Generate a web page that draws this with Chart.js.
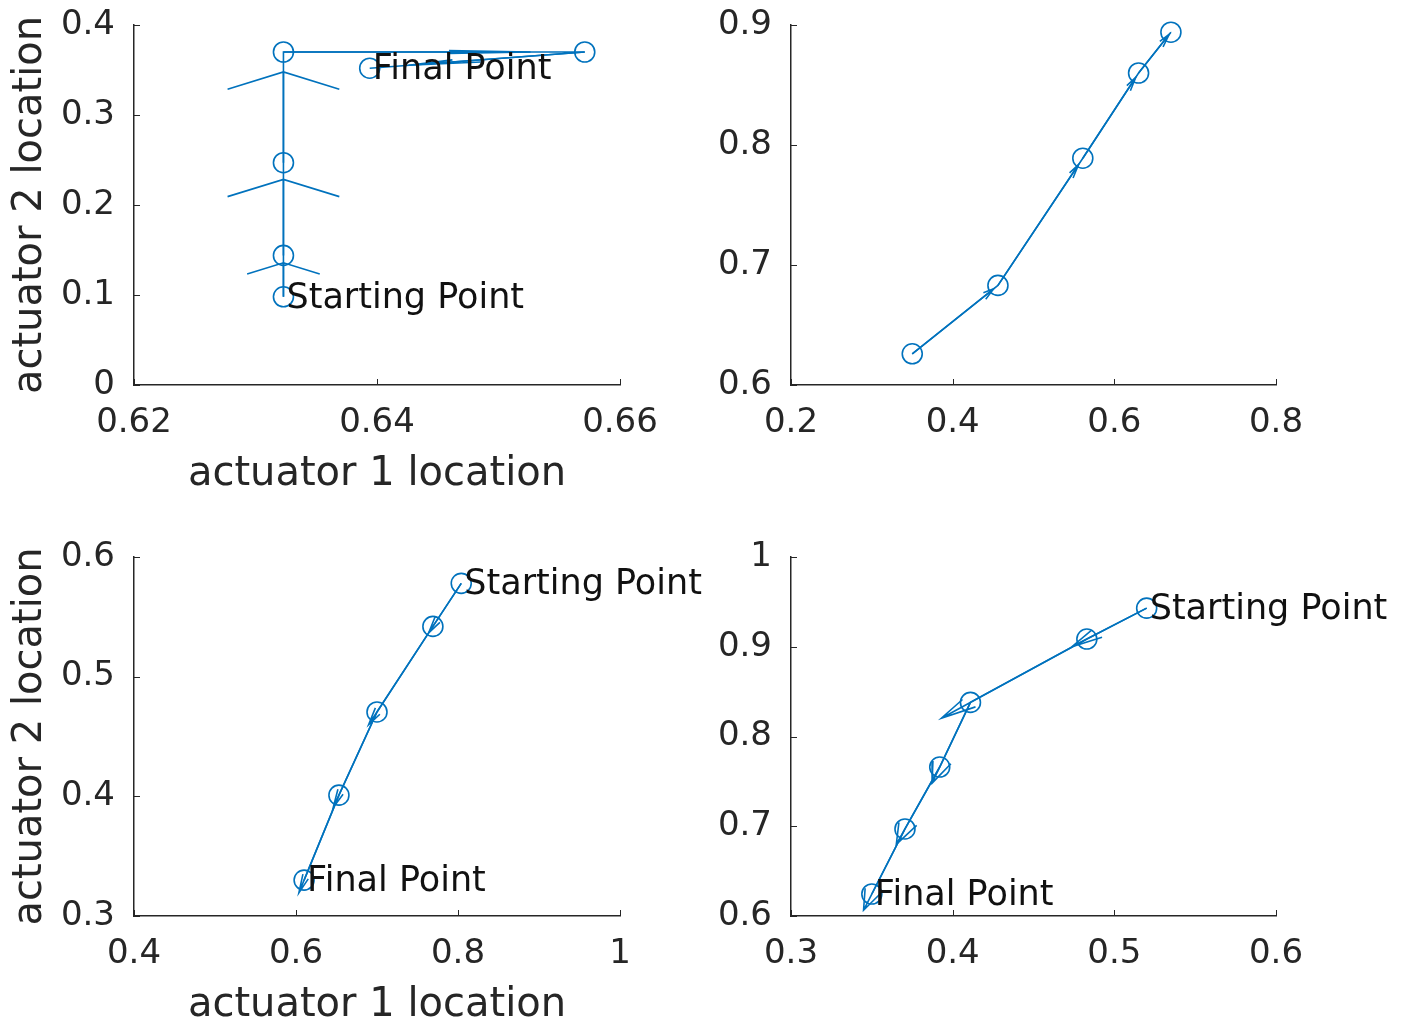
<!DOCTYPE html>
<html>
<head>
<meta charset="utf-8">
<script src="https://cdn.jsdelivr.net/npm/chart.js@4.4.0/dist/chart.umd.min.js"></script>
<style>
  html, body { margin: 0; padding: 0; background: #fff; }
  #wrap { position: relative; width: 1403px; height: 1030px; overflow: hidden; }
  #wrap canvas { position: absolute; left: 0; top: 0; }
</style>
</head>
<body>
<div id="wrap">
  <canvas id="run1" width="1403" height="1030"></canvas>
  <canvas id="run2" width="1403" height="1030"></canvas>
  <canvas id="run3" width="1403" height="1030"></canvas>
  <canvas id="run4" width="1403" height="1030"></canvas>
</div>
<script>
// actuator positions per iteration, one run per subplot
const act1Run1 = [0.6323, 0.6323, 0.6323, 0.6323, 0.6571, 0.6394];
const act2Run1 = [0.098, 0.144, 0.247, 0.370, 0.370, 0.352];

const act1Run2 = [0.350, 0.456, 0.561, 0.630, 0.670];
const act2Run2 = [0.626, 0.683, 0.789, 0.860, 0.894];

const act1Run3 = [0.804, 0.769, 0.700, 0.653, 0.610];
const act2Run3 = [0.578, 0.542, 0.4705, 0.401, 0.330];

const act1Run4 = [0.520, 0.483, 0.411, 0.392, 0.3705, 0.350];
const act2Run4 = [0.943, 0.9086, 0.838, 0.766, 0.697, 0.6245];

// axis ticks
const xTicks1 = [0.62, 0.64, 0.66];
const yTicks1 = [0, 0.1, 0.2, 0.3, 0.4];
const xTicks2 = [0.2, 0.4, 0.6, 0.8];
const yTicks2 = [0.6, 0.7, 0.8, 0.9];
const xTicks3 = [0.4, 0.6, 0.8, 1];
const yTicks3 = [0.3, 0.4, 0.5, 0.6];
const xTicks4 = [0.3, 0.4, 0.5, 0.6];
const yTicks4 = [0.6, 0.7, 0.8, 0.9, 1];

const BLUE = '#0072BD';
const AXIS = '#262626';
Chart.defaults.font.family = '"DejaVu Sans", sans-serif';

// quiver-style arrows from each point toward the next one (heads built in data units)
function quiverData(xs, ys, scale, headCap) {
  const arrows = [];
  for (let i = 0; i < xs.length - 1; i++) {
    arrows.push({ x: xs[i], y: ys[i], u: (xs[i + 1] - xs[i]) * scale, v: (ys[i + 1] - ys[i]) * scale });
  }
  const maxLen = Math.max(...arrows.map(a => Math.hypot(a.u, a.v)));
  const gap = { x: null, y: null };
  const pts = [];
  arrows.forEach(a => {
    const len = Math.hypot(a.u, a.v);
    const tx = a.x + a.u, ty = a.y + a.v;
    const h = Math.min(0.33 * len, headCap * maxLen);
    const w = 0.24 * h;
    const ux = a.u / len, uy = a.v / len;
    pts.push({ x: a.x, y: a.y }, { x: tx, y: ty }, gap,
      { x: tx - h * ux + w * uy, y: ty - h * uy - w * ux },
      { x: tx, y: ty },
      { x: tx - h * ux - w * uy, y: ty - h * uy + w * ux }, gap);
  });
  return pts;
}

function makePanel(id, xs, ys, xTicks, yTicks, area, withTitles, arrowScale, headCap, labels) {
  const yw = withTitles ? area.l : 100;
  const xh = 115;

  // text labels at the points and inward tick marks
  const extras = {
    id: 'extras',
    afterDatasetsDraw(chart) {
      const { ctx, chartArea, scales: { x, y } } = chart;
      ctx.save();
      ctx.strokeStyle = AXIS;
      ctx.lineWidth = 1;
      ctx.beginPath();
      x.ticks.forEach(t => {
        const px = Math.round(x.getPixelForValue(t.value)) + 0.5;
        ctx.moveTo(px, chartArea.bottom); ctx.lineTo(px, chartArea.bottom - 6);
      });
      y.ticks.forEach(t => {
        const py = Math.round(y.getPixelForValue(t.value)) + 0.5;
        ctx.moveTo(chartArea.left, py); ctx.lineTo(chartArea.left + 6, py);
      });
      ctx.stroke();
      ctx.font = '35px "DejaVu Sans"';
      ctx.fillStyle = '#111';
      ctx.textAlign = 'left';
      ctx.textBaseline = 'middle';
      labels.forEach(l => {
        ctx.fillText(l.text, x.getPixelForValue(xs[l.i]) + 3, y.getPixelForValue(ys[l.i]) + 2);
      });
      ctx.restore();
    }
  };

  return new Chart(document.getElementById(id), {
    type: 'scatter',
    data: {
      datasets: [{
        data: xs.map((v, i) => ({ x: v, y: ys[i] })),
        showLine: true,
        borderColor: BLUE,
        borderWidth: 1.6,
        pointStyle: 'circle',
        pointRadius: 10,
        pointBorderWidth: 1.6,
        pointBorderColor: BLUE,
        pointBackgroundColor: 'rgba(0,0,0,0)',
        clip: false
      }, {
        data: quiverData(xs, ys, arrowScale, headCap),
        showLine: true,
        spanGaps: false,
        borderColor: BLUE,
        borderWidth: 1.6,
        pointRadius: 0,
        clip: false
      }]
    },
    options: {
      responsive: false,
      animation: false,
      events: [],
      layout: {
        padding: { left: area.l - yw, top: area.t, right: 1403 - area.r, bottom: 1030 - area.b - xh }
      },
      plugins: { legend: { display: false }, tooltip: { enabled: false } },
      scales: {
        x: {
          type: 'linear',
          position: 'bottom',
          min: xTicks[0],
          max: xTicks[xTicks.length - 1],
          grid: { display: false, drawTicks: false },
          border: { display: true, color: AXIS, width: 1.5 },
          ticks: { color: AXIS, font: { size: 34 }, padding: 18, maxRotation: 0, autoSkip: false, callback: v => String(v) },
          title: { display: withTitles, text: 'actuator 1 location', color: AXIS, font: { size: 40 }, padding: { top: 0, bottom: 1 } },
          afterBuildTicks: s => { s.ticks = xTicks.map(v => ({ value: v })); },
          afterFit: s => { s.height = xh; s.paddingLeft = 0; s.paddingRight = 0; }
        },
        y: {
          type: 'linear',
          position: 'left',
          min: yTicks[0],
          max: yTicks[yTicks.length - 1],
          grid: { display: false, drawTicks: false },
          border: { display: true, color: AXIS, width: 1.5 },
          ticks: { color: AXIS, font: { size: 34 }, padding: 19, autoSkip: false, callback: v => String(v) },
          title: { display: withTitles, text: 'actuator 2 location', color: AXIS, font: { size: 40 }, padding: { top: 7, bottom: 0 } },
          afterBuildTicks: s => { s.ticks = yTicks.map(v => ({ value: v })); },
          afterFit: s => { s.width = yw; s.paddingTop = 0; s.paddingBottom = 0; }
        }
      }
    },
    plugins: [extras]
  });
}

makePanel('run1', act1Run1, act2Run1, xTicks1, yTicks1, { l: 134, t: 25, r: 620, b: 385 }, true, 0.82, 0.19,
  [{ i: 0, text: 'Starting Point' }, { i: act1Run1.length - 1, text: 'Final Point' }]);
makePanel('run2', act1Run2, act2Run2, xTicks2, yTicks2, { l: 791, t: 25, r: 1276, b: 385 }, false, 0.95, 0.09, []);
makePanel('run3', act1Run3, act2Run3, xTicks3, yTicks3, { l: 134, t: 557, r: 620, b: 916 }, true, 1.15, 0.14,
  [{ i: 0, text: 'Starting Point' }, { i: act1Run3.length - 1, text: 'Final Point' }]);
makePanel('run4', act1Run4, act2Run4, xTicks4, yTicks4, { l: 791, t: 557, r: 1276, b: 916 }, false, 1.25, 0.19,
  [{ i: 0, text: 'Starting Point' }, { i: act1Run4.length - 1, text: 'Final Point' }]);
</script>
</body>
</html>
